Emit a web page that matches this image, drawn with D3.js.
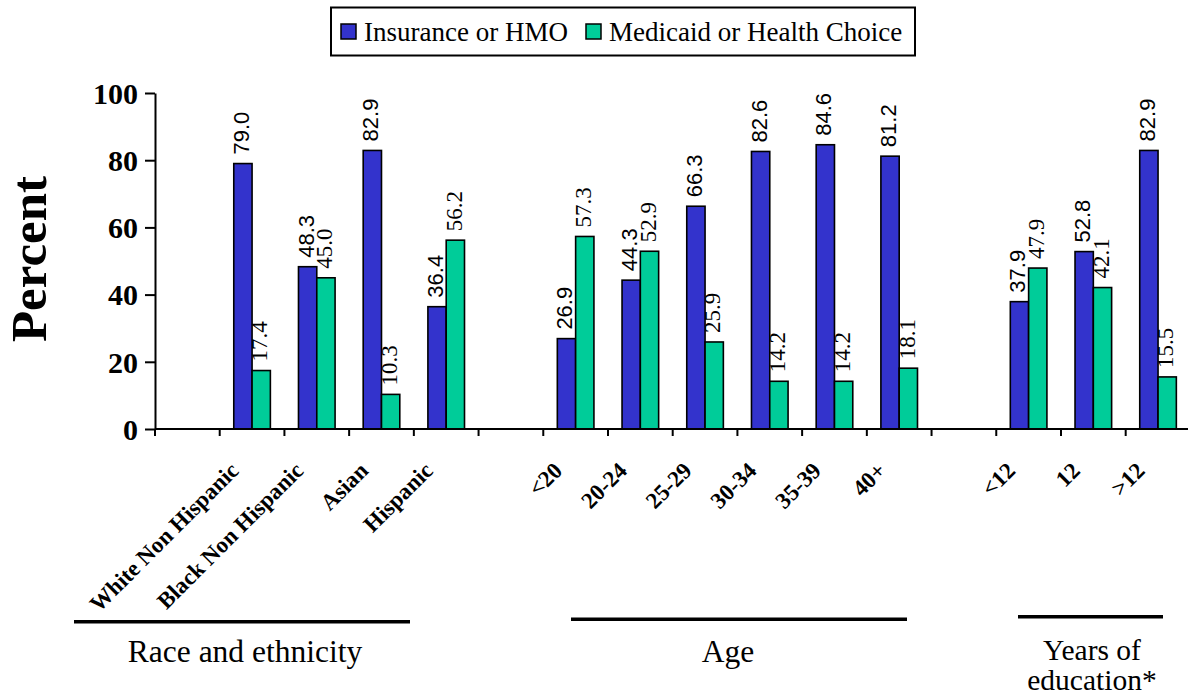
<!DOCTYPE html>
<html>
<head>
<meta charset="utf-8">
<script src="https://cdn.jsdelivr.net/npm/d3@7"></script>
<style>
  body { margin: 0; background: #fff; }
  svg { display: block; }
</style>
</head>
<body>
<div id="chart"></div>
<script>
// --- DATA (blank slots are the spacer columns of the original sheet) ---
const categories = ["", "White Non Hispanic", "Black Non Hispanic", "Asian", "Hispanic",
                    "", "<20", "20-24", "25-29", "30-34", "35-39", "40+",
                    "", "<12", "12", ">12"];
const insurance = [null, 79.0, 48.3, 82.9, 36.4, null, 26.9, 44.3, 66.3, 82.6, 84.6, 81.2, null, 37.9, 52.8, 82.9];
const medicaid  = [null, 17.4, 45.0, 10.3, 56.2, null, 57.3, 52.9, 25.9, 14.2, 14.2, 18.1, null, 47.9, 42.1, 15.5];
const seriesNames = ["Insurance or HMO", "Medicaid or Health Choice"];
const yTicks = [0, 20, 40, 60, 80, 100];
const groupNames = [["Race and ethnicity"], ["Age"], ["Years of", "education*"]];

const W = 1188, H = 698;
const colors = ["#3333cc", "#00cc99"];
const serif = "'Liberation Serif', 'Times New Roman', serif";
const sans = "'Liberation Sans', Arial, sans-serif";

const svg = d3.select("#chart").append("svg")
    .attr("width", W).attr("height", H);

const slots = d3.range(categories.length);
const x = d3.scaleBand().domain(slots).range([155, 1190.4]).padding(0);
const y = d3.scaleLinear().domain([0, 100]).range([429, 93]);
const barW = 18.3;

const rows = categories.map((c, i) => ({ c, slot: i, vals: [insurance[i], medicaid[i]] }))
    .filter(d => d.c !== "");

const cx = d => x(d.slot) + x.bandwidth() / 2;

// --- value labels (drawn first so the bars sit on top, as in the original) ---
const labelStyle = [
    { font: sans, size: 22 },
    { font: serif, size: 23 }
];
[0, 1].forEach(s => {
    svg.append("g").selectAll("text")
        .data(rows)
        .join("text")
        .attr("transform", d => {
            const bx = cx(d) + (s === 0 ? -barW / 2 : barW / 2);
            return `translate(${bx},${y(d.vals[s]) - 9}) rotate(-90)`;
        })
        .attr("dy", "0.27em")
        .attr("font-family", labelStyle[s].font)
        .attr("font-size", labelStyle[s].size)
        .attr("fill", "#000")
        .text(d => d.vals[s].toFixed(1));
});

// --- bars ---
[0, 1].forEach(s => {
    svg.append("g").selectAll("rect")
        .data(rows)
        .join("rect")
        .attr("x", d => cx(d) - barW + s * barW)
        .attr("y", d => y(d.vals[s]))
        .attr("width", barW)
        .attr("height", d => y(0) - y(d.vals[s]))
        .attr("fill", colors[s])
        .attr("stroke", "#000")
        .attr("stroke-width", 1.6);
});

// --- y axis ---
const yAxis = svg.append("g")
    .attr("transform", "translate(155,0)")
    .call(d3.axisLeft(y).tickValues(yTicks).tickSize(10).tickSizeOuter(0).tickPadding(7));
yAxis.select(".domain").attr("stroke", "#000").attr("stroke-width", 2);
yAxis.selectAll(".tick line").attr("stroke", "#000").attr("stroke-width", 2);
yAxis.selectAll(".tick text")
    .attr("font-family", serif).attr("font-size", 30).attr("font-weight", "bold")
    .attr("fill", "#000").attr("dy", "0.34em");

svg.append("text")
    .attr("transform", "translate(46,259) rotate(-90)")
    .attr("text-anchor", "middle")
    .attr("font-family", serif).attr("font-size", 51).attr("font-weight", "bold")
    .text("Percent");

// --- x axis: line plus ticks at slot boundaries ---
svg.append("line")
    .attr("x1", 155).attr("x2", W).attr("y1", y(0)).attr("y2", y(0))
    .attr("stroke", "#000").attr("stroke-width", 2);
svg.append("g").selectAll("line")
    .data(slots)
    .join("line")
    .attr("x1", d => x(d)).attr("x2", d => x(d))
    .attr("y1", y(0)).attr("y2", y(0) + 7)
    .attr("stroke", "#000").attr("stroke-width", 2);

svg.append("g").selectAll("text")
    .data(rows)
    .join("text")
    .attr("transform", d => `translate(${cx(d) - 12},472) rotate(-45)`)
    .attr("text-anchor", "end")
    .attr("font-family", serif).attr("font-size", 23).attr("font-weight", "bold")
    .text(d => d.c);

// --- group brackets and titles ---
const groupLayout = [
    { x1: 74, x2: 410, ly: 621.7, tx: 245, ty: 662, size: 31.5 },
    { x1: 571, x2: 907, ly: 619.3, tx: 728, ty: 662, size: 31.5 },
    { x1: 1018, x2: 1163, ly: 616.7, tx: 1092, ty: 660, size: 29.5 }
];
groupLayout.forEach((g, i) => {
    svg.append("line")
        .attr("x1", g.x1).attr("x2", g.x2).attr("y1", g.ly).attr("y2", g.ly)
        .attr("stroke", "#000").attr("stroke-width", 3.5);
    const t = svg.append("text")
        .attr("text-anchor", "middle")
        .attr("font-family", serif).attr("font-size", g.size);
    groupNames[i].forEach((line, j) => {
        t.append("tspan").attr("x", g.tx).attr("y", g.ty + j * 30).text(line);
    });
});

// --- legend ---
const legend = svg.append("g");
legend.append("rect")
    .attr("x", 331).attr("y", 7.5).attr("width", 584).attr("height", 48)
    .attr("fill", "#fff").attr("stroke", "#000").attr("stroke-width", 2);
const legendX = [341, 586];
seriesNames.forEach((name, i) => {
    legend.append("rect")
        .attr("x", legendX[i]).attr("y", 24).attr("width", 15).attr("height", 15)
        .attr("fill", colors[i]).attr("stroke", "#000").attr("stroke-width", 1.5);
    legend.append("text")
        .attr("x", legendX[i] + 23).attr("y", 41)
        .attr("font-family", serif).attr("font-size", 27)
        .text(name);
});
</script>
</body>
</html>
